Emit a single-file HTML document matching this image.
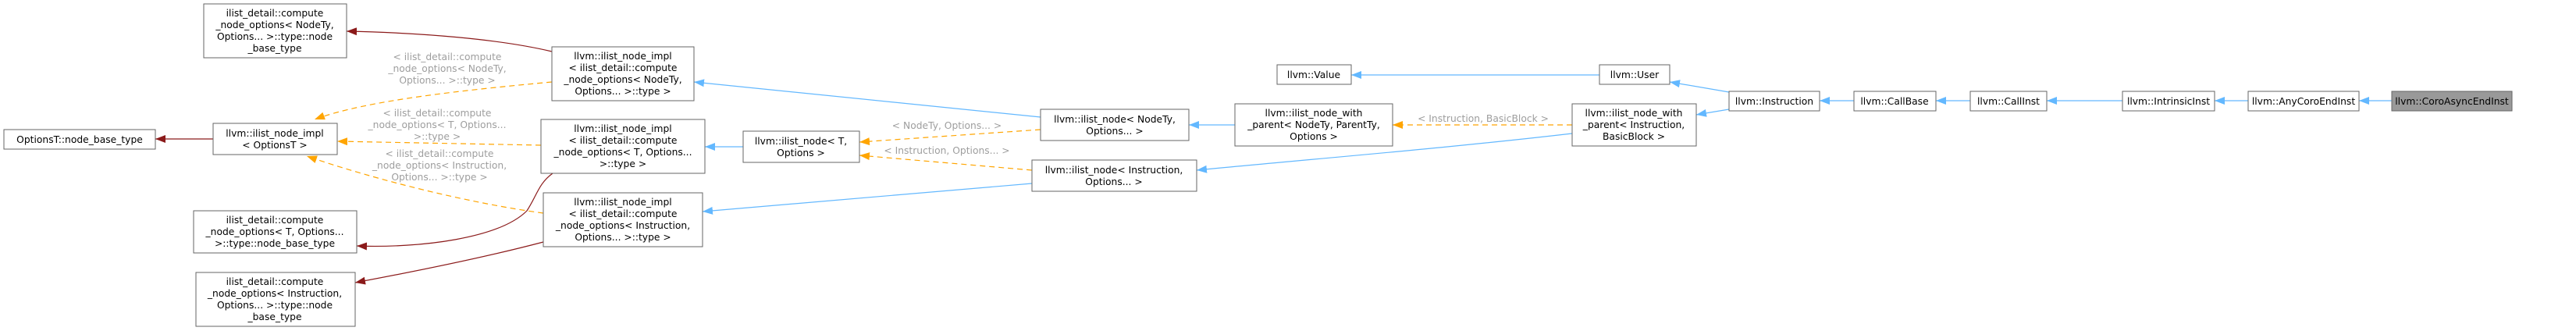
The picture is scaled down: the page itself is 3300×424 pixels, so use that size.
<!DOCTYPE html>
<html><head><meta charset="utf-8">
<style>
html,body{margin:0;padding:0;background:#fff;}
svg{display:block;}
text{font-family:"DejaVu Sans","Liberation Sans",sans-serif;font-size:12.3px;fill:#000;}
.lbl{fill:#9e9e9e;}
rect{fill:#fff;stroke:#666;stroke-width:1;}
.b{stroke:#63b8ff;fill:none;stroke-width:1.2;}
.r{stroke:#8b1a1a;fill:none;stroke-width:1.2;}
.o{stroke:#ffa500;fill:none;stroke-width:1.2;stroke-dasharray:7,5;}
</style></head><body>
<svg width="3300" height="424" viewBox="0 0 3300 424" xmlns="http://www.w3.org/2000/svg">
<defs>
<marker id="mb" markerWidth="13" markerHeight="10" refX="13" refY="5" orient="auto" markerUnits="userSpaceOnUse"><path d="M0,0 L13,5 L0,10 Z" fill="#63b8ff"/></marker>
<marker id="mr" markerWidth="13" markerHeight="10" refX="13" refY="5" orient="auto" markerUnits="userSpaceOnUse"><path d="M0,0 L13,5 L0,10 Z" fill="#8b1a1a"/></marker>
<marker id="mo" markerWidth="13" markerHeight="10" refX="13" refY="5" orient="auto" markerUnits="userSpaceOnUse"><path d="M0,0 L13,5 L0,10 Z" fill="#ffa500"/></marker>
</defs>

<!-- edges -->
<path class="r" d="M273,178 L199,178" marker-end="url(#mr)" />
<path class="r" d="M707,66 C640,50 540,42 444,40" marker-end="url(#mr)"/>
<path class="o" d="M707,105 C600,115 470,128 403,153" marker-end="url(#mo)"/>
<path class="o" d="M693,186 L432,181" marker-end="url(#mo)"/>
<path class="o" d="M696,273 C600,260 480,230 393,200" marker-end="url(#mo)"/>
<path class="r" d="M708,222 C690,235 688,250 675,270 C640,305 540,318 457,315" marker-end="url(#mr)"/>
<path class="r" d="M696,310 C620,330 530,348 455,362" marker-end="url(#mr)"/>
<path class="b" d="M1333,150 L889,105" marker-end="url(#mb)"/>
<path class="b" d="M952,188 L903,188" marker-end="url(#mb)"/>
<path class="o" d="M1333,166 L1101,182" marker-end="url(#mo)"/>
<path class="o" d="M1322,218 L1101,199" marker-end="url(#mo)"/>
<path class="b" d="M1322,235 L900,271" marker-end="url(#mb)"/>
<path class="b" d="M1582,160 L1523,160" marker-end="url(#mb)"/>
<path class="b" d="M2014,171 C1850,190 1700,202 1533,218" marker-end="url(#mb)"/>
<path class="o" d="M2014,160 L1784,160" marker-end="url(#mo)"/>
<path class="b" d="M2049,96 L1731,96" marker-end="url(#mb)"/>
<path class="b" d="M2215,118 L2139,105" marker-end="url(#mb)"/>
<path class="b" d="M2215,140 L2173,147" marker-end="url(#mb)"/>
<path class="b" d="M2375,129 L2331,129" marker-end="url(#mb)"/>
<path class="b" d="M2524,129 L2480,129" marker-end="url(#mb)"/>
<path class="b" d="M2719,129 L2622,129" marker-end="url(#mb)"/>
<path class="b" d="M2880,129 L2837,129" marker-end="url(#mb)"/>
<path class="b" d="M3064,129 L3022,129" marker-end="url(#mb)"/>

<!-- edge labels -->
<g class="lbl" text-anchor="middle">
<text class="lbl" x="573" y="77">&lt; ilist_detail::compute</text>
<text class="lbl" x="573" y="92">_node_options&lt; NodeTy,</text>
<text class="lbl" x="573" y="107">Options... &gt;::type &gt;</text>
<text class="lbl" x="560" y="149">&lt; ilist_detail::compute</text>
<text class="lbl" x="560" y="164">_node_options&lt; T, Options...</text>
<text class="lbl" x="560" y="179">&gt;::type &gt;</text>
<text class="lbl" x="563" y="201">&lt; ilist_detail::compute</text>
<text class="lbl" x="563" y="216">_node_options&lt; Instruction,</text>
<text class="lbl" x="563" y="231">Options... &gt;::type &gt;</text>
<text class="lbl" x="1213" y="165">&lt; NodeTy, Options... &gt;</text>
<text class="lbl" x="1213" y="197">&lt; Instruction, Options... &gt;</text>
<text class="lbl" x="1900" y="156">&lt; Instruction, BasicBlock &gt;</text>
</g>

<!-- nodes -->
<g text-anchor="middle">
<rect x="5" y="166" width="194" height="25"/>
<text x="102" y="183">OptionsT::node_base_type</text>

<rect x="273" y="158" width="159" height="40"/>
<text x="352" y="175">llvm::ilist_node_impl</text>
<text x="352" y="190">&lt; OptionsT &gt;</text>

<rect x="261" y="5" width="183" height="69"/>
<text x="352" y="21">ilist_detail::compute</text>
<text x="352" y="36">_node_options&lt; NodeTy,</text>
<text x="352" y="51">Options... &gt;::type::node</text>
<text x="352" y="66">_base_type</text>

<rect x="248" y="270" width="209" height="54"/>
<text x="352" y="286">ilist_detail::compute</text>
<text x="352" y="301">_node_options&lt; T, Options...</text>
<text x="352" y="316">&gt;::type::node_base_type</text>

<rect x="251" y="349" width="204" height="69"/>
<text x="352" y="365">ilist_detail::compute</text>
<text x="352" y="380">_node_options&lt; Instruction,</text>
<text x="352" y="395">Options... &gt;::type::node</text>
<text x="352" y="410">_base_type</text>

<rect x="707" y="60" width="182" height="69"/>
<text x="798" y="76">llvm::ilist_node_impl</text>
<text x="798" y="91">&lt; ilist_detail::compute</text>
<text x="798" y="106">_node_options&lt; NodeTy,</text>
<text x="798" y="121">Options... &gt;::type &gt;</text>

<rect x="693" y="153" width="210" height="69"/>
<text x="798" y="169">llvm::ilist_node_impl</text>
<text x="798" y="184">&lt; ilist_detail::compute</text>
<text x="798" y="199">_node_options&lt; T, Options...</text>
<text x="798" y="214">&gt;::type &gt;</text>

<rect x="696" y="247" width="204" height="69"/>
<text x="798" y="263">llvm::ilist_node_impl</text>
<text x="798" y="278">&lt; ilist_detail::compute</text>
<text x="798" y="293">_node_options&lt; Instruction,</text>
<text x="798" y="308">Options... &gt;::type &gt;</text>

<rect x="952" y="168" width="149" height="40"/>
<text x="1026" y="185">llvm::ilist_node&lt; T,</text>
<text x="1026" y="200">Options &gt;</text>

<rect x="1333" y="140" width="190" height="40"/>
<text x="1428" y="157">llvm::ilist_node&lt; NodeTy,</text>
<text x="1428" y="172">Options... &gt;</text>

<rect x="1322" y="205" width="211" height="40"/>
<text x="1427" y="222">llvm::ilist_node&lt; Instruction,</text>
<text x="1427" y="237">Options... &gt;</text>

<rect x="1636" y="83" width="95" height="25"/>
<text x="1683" y="100">llvm::Value</text>

<rect x="1582" y="133" width="202" height="54"/>
<text x="1683" y="149">llvm::ilist_node_with</text>
<text x="1683" y="164">_parent&lt; NodeTy, ParentTy,</text>
<text x="1683" y="179">Options &gt;</text>

<rect x="2049" y="83" width="90" height="25"/>
<text x="2094" y="100">llvm::User</text>

<rect x="2014" y="133" width="159" height="54"/>
<text x="2093" y="149">llvm::ilist_node_with</text>
<text x="2093" y="164">_parent&lt; Instruction,</text>
<text x="2093" y="179">BasicBlock &gt;</text>

<rect x="2215" y="117" width="116" height="25"/>
<text x="2273" y="134">llvm::Instruction</text>

<rect x="2375" y="117" width="105" height="25"/>
<text x="2427" y="134">llvm::CallBase</text>

<rect x="2524" y="117" width="98" height="25"/>
<text x="2573" y="134">llvm::CallInst</text>

<rect x="2719" y="117" width="118" height="25"/>
<text x="2778" y="134">llvm::IntrinsicInst</text>

<rect x="2880" y="117" width="142" height="25"/>
<text x="2951" y="134">llvm::AnyCoroEndInst</text>

<rect x="3064" y="117" width="154" height="25" style="fill:#999;stroke:#666"/>
<text x="3141" y="134">llvm::CoroAsyncEndInst</text>
</g>
</svg>
</body></html>
